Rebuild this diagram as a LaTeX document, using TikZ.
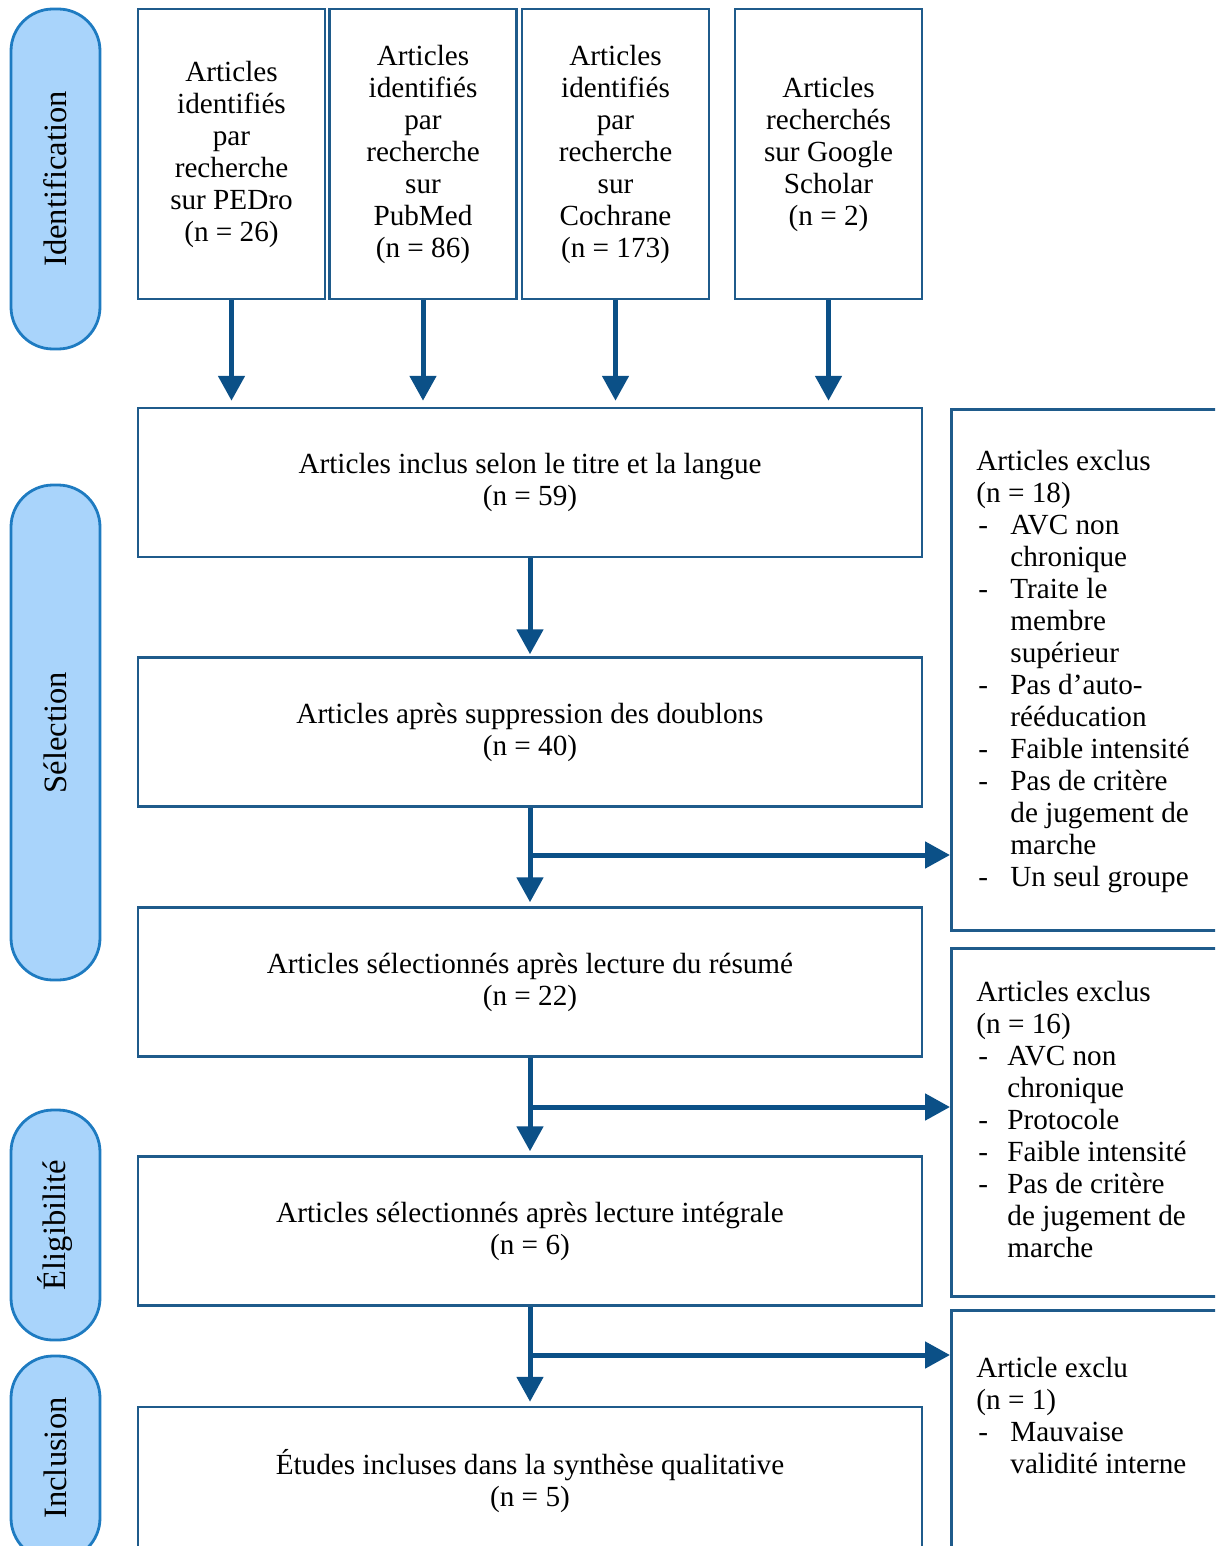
\documentclass[tikz,border=0pt]{standalone}
\usepackage{fontspec}
\setmainfont{Liberation Serif}
\usetikzlibrary{arrows.meta}
\definecolor{pillfill}{HTML}{A9D4FB}
\definecolor{pillline}{HTML}{1E7BC1}
\definecolor{boxline}{HTML}{1F5B8B}
\definecolor{arrowcol}{HTML}{0B5087}
\newcommand{\itm}[2][17pt]{\makebox[#1][l]{\hspace{1pt}-}#2}
\newcommand{\cnt}[2][17pt]{\hspace*{#1}#2}

\begin{document}
\begin{tikzpicture}[x=0.5pt, y=-0.5pt,
  every node/.style={font=\fontsize{14.6pt}{16pt}\selectfont},
  box/.style={draw=boxline, line width=1.25pt, align=center, inner sep=0pt},
  topbox/.style={box, minimum width=93.5pt, minimum height=145pt},
  mainbox/.style={box, minimum width=392pt, minimum height=74.5pt},
  exbox/.style={box, anchor=north west, minimum width=140pt},
  extext/.style={anchor=north west, align=left, inner sep=0pt},
  pill/.style={draw=pillline, fill=pillfill, line width=1.4pt, rounded corners=21pt,
    rotate=90, minimum height=44.5pt, inner sep=0pt, font=\fontsize{16.3pt}{18pt}\selectfont},
  arr/.style={draw=arrowcol, line width=2.5pt, -{Triangle[length=12.5pt,width=13pt]}}]

\useasboundingbox (0,0) rectangle (1215,1546);
\clip (0,0) rectangle (1215,1546);

% phases
\node[pill, minimum width=170pt] (pid) at (55.5,179) {Identification};
\node[pill, minimum width=247.5pt] (psel) at (55.5,732.5) {Sélection};
\node[pill, minimum width=115pt] (pel) at (55.5,1225) {Éligibilité};
\node[pill, minimum width=102pt] (pinc) at (55.5,1458) {Inclusion};

% sources
\node[topbox] (pedro) at (231.5,154) {Articles\\identifiés\\par\\recherche\\sur PEDro\\(n = 26)};
\node[topbox] (pubmed) at (423,154) {Articles\\identifiés\\par\\recherche\\sur\\PubMed\\(n = 86)};
\node[topbox] (cochrane) at (615.5,154) {Articles\\identifiés\\par\\recherche\\sur\\Cochrane\\(n = 173)};
\node[topbox] (scholar) at (828.5,154) {Articles\\recherchés\\sur Google\\Scholar\\(n = 2)};

% main column
\node[mainbox] (inclus) at (530,482.5) {Articles inclus selon le titre et la langue\\(n = 59)};
\node[mainbox] (doublons) at (530,732) {Articles après suppression des doublons\\(n = 40)};
\node[mainbox] (resume) at (530,982) {Articles sélectionnés après lecture du résumé\\(n = 22)};
\node[mainbox] (integrale) at (530,1231) {Articles sélectionnés après lecture intégrale\\(n = 6)};
\node[mainbox] (etudes) at (530,1481.5) {Études incluses dans la synthèse qualitative\\(n = 5)};

% exclusions
\node[exbox, minimum height=260.5pt] (ex1) at (950,408) {};
\node[exbox, minimum height=174pt] (ex2) at (950,947) {};
\node[exbox, minimum height=130pt] (ex3) at (950,1309) {};

\node[extext] (ex1t) at (976,450) {Articles exclus\\(n = 18)\\\itm{AVC non}\\\cnt{chronique}\\\itm{Traite le}\\\cnt{membre}\\\cnt{supérieur}\\\itm{Pas d’auto-}\\\cnt{rééducation}\\\itm{Faible intensité}\\\itm{Pas de critère}\\\cnt{de jugement de}\\\cnt{marche}\\\itm[17pt]{Un seul groupe}};
\node[extext] (ex2t) at (976,981) {Articles exclus\\(n = 16)\\\itm[15.5pt]{AVC non}\\\cnt[15.5pt]{chronique}\\\itm[15.5pt]{Protocole}\\\itm[15.5pt]{Faible intensité}\\\itm[15.5pt]{Pas de critère}\\\cnt[15.5pt]{de jugement de}\\\cnt[15.5pt]{marche}};
\node[extext] (ex3t) at (976,1357) {Article exclu\\(n = 1)\\\itm{Mauvaise}\\\cnt{validité interne}};

% arrows
\foreach \src in {pedro,pubmed,cochrane,scholar}
  \draw[arr, shorten >=3pt] (\src.south) -- (\src.south |- inclus.north);
\draw[arr, shorten >=1pt] (inclus) -- (doublons);
\draw[arr, shorten >=2pt] (doublons) -- (resume);
\draw[arr, shorten >=2pt] (resume) -- (integrale);
\draw[arr, shorten >=2pt] (integrale) -- (etudes);

\coordinate (s1) at (530,855);
\coordinate (s2) at (530,1107);
\coordinate (s3) at (530,1355);
\draw[arr] (s1) -- (s1 -| ex1.west);
\draw[arr] (s2) -- (s2 -| ex2.west);
\draw[arr] (s3) -- (s3 -| ex3.west);

\end{tikzpicture}
\end{document}
